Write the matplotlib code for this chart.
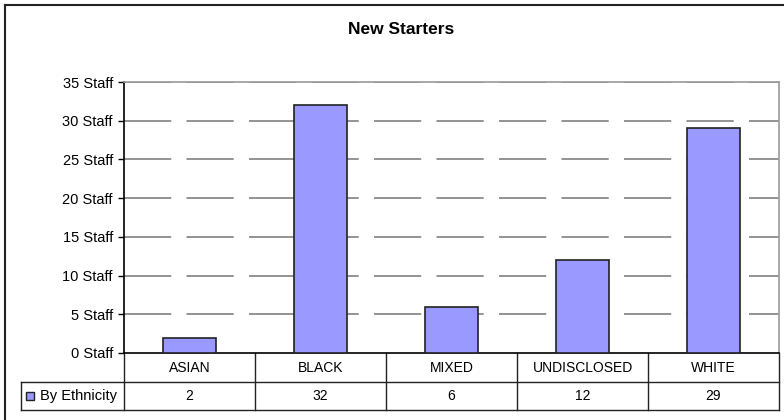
import numpy as np
import matplotlib.pyplot as plt
import matplotlib.transforms as mtransforms
from matplotlib.patches import Rectangle

categories = ["ASIAN", "BLACK", "MIXED", "UNDISCLOSED", "WHITE"]
values = [2, 32, 6, 12, 29]
series_name = "By Ethnicity"
title = "New Starters"
yticks = [0, 5, 10, 15, 20, 25, 30, 35]

plt.rcParams['font.family'] = ['Liberation Sans', 'DejaVu Sans']
plt.rcParams['lines.scale_dashes'] = False

W, H = 784, 420
fig = plt.figure(figsize=(W / 100, H / 100), dpi=100)

# plot area in pixels (left, top, right, bottom)
L, T, R, B = 124, 82, 779, 353
ax = fig.add_axes([L / W, 1 - B / H, (R - L) / W, (B - T) / H])

bar_color = '#9999ff'
fs = 10
x = np.arange(len(categories))
ax.bar(x, values, width=0.405, color=bar_color, edgecolor='#222222',
       linewidth=1.2, zorder=3)

ax.set_xlim(-0.5, len(categories) - 0.5)
ax.set_ylim(0, 35)
ax.set_yticks(yticks)
ax.set_yticklabels([f"{v} Staff" for v in yticks], fontsize=10.5)
ax.set_xticks([])
ax.tick_params(axis='y', direction='out', length=4, width=1, pad=4)

for v in yticks[1:]:
    ax.axhline(v, color='#808080', linewidth=1.2,
               linestyle=(0, (34, 11)), zorder=1)

ax.spines['left'].set_linewidth(1.2)
ax.spines['bottom'].set_linewidth(1.2)
ax.spines['right'].set_color('#999999')
ax.spines['top'].set_color('#999999')
ax.spines['right'].set_linewidth(1.2)
ax.spines['top'].set_linewidth(1.2)

# data table under the plot
trans = mtransforms.blended_transform_factory(ax.transData, ax.transAxes)
unit = (R - L) / len(categories)
row1 = -(382 - B) / (B - T)
row2 = -(410 - B) / (B - T)
legend_left = -0.5 - (L - 21) / unit
line_kw = dict(color='#222222', linewidth=1, transform=trans, clip_on=False)
right = len(categories) - 0.5
ax.plot([-0.5, -0.5], [0, row2], **line_kw)
for i in range(len(categories)):
    ax.plot([i + 0.5, i + 0.5], [0, row2], **line_kw)
ax.plot([legend_left, right], [row1, row1], **line_kw)
ax.plot([legend_left, right], [row2, row2], **line_kw)
ax.plot([legend_left, legend_left], [row1, row2], **line_kw)

for i, (cat, val) in enumerate(zip(categories, values)):
    ax.text(i, row1 / 2, cat, transform=trans, ha='center', va='center',
            fontsize=fs)
    ax.text(i, (row1 + row2) / 2, str(val), transform=trans, ha='center',
            va='center', fontsize=fs)

# legend key in the table
key_h = 8 / (B - T)
key_w = 8 / unit
key_x = legend_left + 5 / unit
key_y = (row1 + row2) / 2 - key_h / 2
ax.add_patch(Rectangle((key_x, key_y), key_w, key_h, facecolor=bar_color,
                       edgecolor='#222222', linewidth=1, transform=trans,
                       clip_on=False))
ax.text(key_x + key_w + 6 / unit, (row1 + row2) / 2, series_name,
        transform=trans, ha='left', va='center', fontsize=10.5)

fig.text(401 / W, 1 - 30 / H, title, ha='center', va='center',
         fontsize=12.5, fontweight='bold')

# chart border
fig.add_artist(plt.Line2D([5 / W, 5 / W], [0, 1 - 5 / H], color='#222222',
                          linewidth=1.5))
fig.add_artist(plt.Line2D([5 / W, 1], [1 - 5 / H, 1 - 5 / H], color='#222222',
                          linewidth=1.5))

fig.savefig('out.png', dpi=100)
